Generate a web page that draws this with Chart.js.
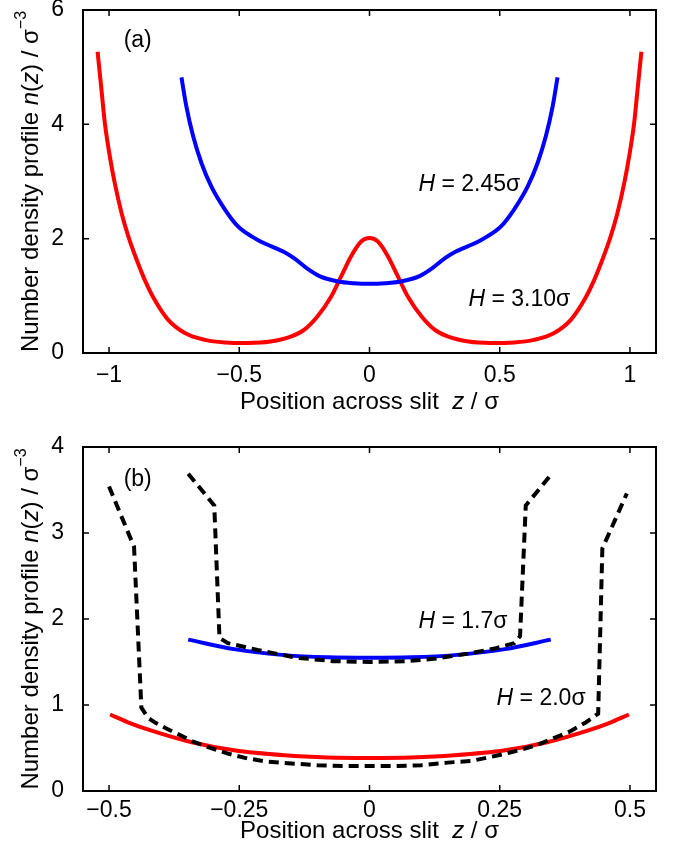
<!DOCTYPE html>
<html>
<head>
<meta charset="utf-8">
<script src="https://cdn.jsdelivr.net/npm/chart.js@4.4.1/dist/chart.umd.min.js"></script>
<style>
  html, body { margin: 0; padding: 0; background: #fff; }
  .panel { position: absolute; left: 0; width: 673px; height: 428px; }
  #wrapA { top: 0; }
  #wrapB { top: 428px; }
</style>
</head>
<body>
<div class="panel" id="wrapA"><canvas id="chartA"></canvas></div>
<div class="panel" id="wrapB"><canvas id="chartB"></canvas></div>
<script>
// ---- panel (a) data ----
const xTicksA = [-1, -0.5, 0, 0.5, 1];
const yTicksA = [0, 2, 4, 6];
// H = 3.10 sigma
const redAx = [-1.044, -1.029, -1.016, -0.997, -0.978, -0.952, -0.926, -0.894, -0.863, -0.825, -0.773, -0.709, -0.632, -0.555, -0.466, -0.38, -0.30, -0.25, -0.20, -0.147, -0.109, -0.071, -0.032, 0,
                0.032, 0.071, 0.109, 0.147, 0.20, 0.25, 0.30, 0.38, 0.466, 0.555, 0.632, 0.709, 0.773, 0.825, 0.863, 0.894, 0.926, 0.952, 0.978, 0.997, 1.016, 1.029, 1.044];
const redAy = [5.27, 4.60, 4.02, 3.44, 2.97, 2.45, 2.04, 1.63, 1.28, 0.93, 0.58, 0.35, 0.23, 0.185, 0.175, 0.20, 0.29, 0.41, 0.64, 0.99, 1.34, 1.69, 1.95, 2.01,
                1.95, 1.69, 1.34, 0.99, 0.64, 0.41, 0.29, 0.20, 0.175, 0.185, 0.23, 0.35, 0.58, 0.93, 1.28, 1.63, 2.04, 2.45, 2.97, 3.44, 4.02, 4.60, 5.27];
// H = 2.45 sigma
const blueAx = [-0.722, -0.703, -0.677, -0.645, -0.607, -0.555, -0.504, -0.453, -0.40, -0.33, -0.29, -0.24, -0.19, -0.12, -0.06, 0,
                 0.06, 0.12, 0.19, 0.24, 0.29, 0.33, 0.40, 0.453, 0.504, 0.555, 0.607, 0.645, 0.677, 0.703, 0.722];
const blueAy = [4.82, 4.31, 3.79, 3.32, 2.91, 2.51, 2.21, 2.04, 1.91, 1.77, 1.66, 1.48, 1.34, 1.25, 1.22, 1.21,
                 1.22, 1.25, 1.34, 1.48, 1.66, 1.77, 1.91, 2.04, 2.21, 2.51, 2.91, 3.32, 3.79, 4.31, 4.82];

// ---- panel (b) data ----
const xTicksB = [-0.5, -0.25, 0, 0.25, 0.5];
const yTicksB = [0, 1, 2, 3, 4];
const redBx = [-0.498, -0.46, -0.42, -0.343, -0.26, -0.163, -0.08, 0, 0.08, 0.163, 0.26, 0.343, 0.42, 0.46, 0.498];
const redBy = [0.89, 0.79, 0.705, 0.57, 0.473, 0.415, 0.39, 0.385, 0.39, 0.415, 0.473, 0.57, 0.705, 0.79, 0.89];
const blueBx = [-0.348, -0.26, -0.163, -0.08, 0, 0.08, 0.163, 0.26, 0.348];
const blueBy = [1.76, 1.65, 1.58, 1.555, 1.55, 1.555, 1.58, 1.65, 1.76];
// dashed profiles
const dash20x = [-0.50, -0.452, -0.438, -0.425, -0.41, -0.388, -0.36, -0.337, -0.30, -0.272, -0.235, -0.196, -0.15, -0.10, -0.05, 0,
                 0.05, 0.10, 0.15, 0.196, 0.243, 0.272, 0.32, 0.384, 0.416, 0.439, 0.447, 0.494];
const dash20y = [3.54, 2.84, 0.97, 0.85, 0.79, 0.72, 0.64, 0.57, 0.49, 0.435, 0.38, 0.34, 0.32, 0.30, 0.29, 0.29,
                 0.29, 0.30, 0.33, 0.35, 0.41, 0.45, 0.53, 0.69, 0.80, 0.90, 2.82, 3.46];
const dash17x = [-0.348, -0.298, -0.288, -0.272, -0.215, -0.14, -0.07, 0, 0.07, 0.128, 0.192, 0.243, 0.278, 0.289, 0.30, 0.35];
const dash17y = [3.69, 3.32, 1.78, 1.72, 1.64, 1.55, 1.51, 1.50, 1.51, 1.54, 1.60, 1.66, 1.72, 1.80, 3.32, 3.69];

const FAMILY = '"Liberation Sans", Arial, Helvetica, sans-serif';
const pts = (xs, ys) => xs.map((x, i) => ({ x: x, y: ys[i] }));
const fmt = v => (v < 0 ? '\u2212' + Math.abs(v) : String(v));

// draw a run of text pieces (italic / superscript) starting at x, or centred on x
function drawRich(ctx, segs, x, y, size, center) {
  const fonts = segs.map(s => (s.it ? 'italic ' : '') + (s.sup ? Math.round(size * 0.68) : size) + 'px ' + FAMILY);
  let total = 0;
  const widths = segs.map((s, i) => {
    ctx.font = fonts[i];
    const w = ctx.measureText(s.t).width;
    total += w;
    return w;
  });
  let cx = center ? x - total / 2 : x;
  segs.forEach((s, i) => {
    ctx.font = fonts[i];
    ctx.fillText(s.t, cx, s.sup ? y - size * 0.5 : y);
    cx += widths[i];
  });
}

const yTitle = [
  { t: 'Number density profile ' }, { t: 'n', it: true }, { t: '(' }, { t: 'z', it: true },
  { t: ') / \u03c3' }, { t: '\u22123', sup: true }
];
const xTitle = [{ t: 'Position across slit  ' }, { t: 'z', it: true }, { t: ' / \u03c3' }];

const framePlugin = {
  id: 'frame',
  afterDraw(chart) {
    const ctx = chart.ctx;
    const a = chart.chartArea;
    const sx = chart.scales.x, sy = chart.scales.y;
    const o = chart.options.plugins.frame;
    ctx.save();
    ctx.strokeStyle = '#000';
    ctx.lineWidth = 2;
    ctx.strokeRect(a.left, a.top, a.right - a.left, a.bottom - a.top);
    ctx.lineWidth = 1.5;
    ctx.beginPath();
    sx.ticks.forEach(t => {
      const px = sx.getPixelForValue(t.value);
      ctx.moveTo(px, a.bottom); ctx.lineTo(px, a.bottom - 6);
      ctx.moveTo(px, a.top); ctx.lineTo(px, a.top + 6);
    });
    sy.ticks.forEach(t => {
      const py = sy.getPixelForValue(t.value);
      ctx.moveTo(a.left, py); ctx.lineTo(a.left + 6, py);
      ctx.moveTo(a.right, py); ctx.lineTo(a.right - 6, py);
    });
    ctx.stroke();

    ctx.fillStyle = '#000';
    ctx.textAlign = 'left';
    ctx.textBaseline = 'alphabetic';
    // axis titles
    drawRich(ctx, xTitle, (a.left + a.right) / 2, a.bottom + o.xTitleGap, 24, true);
    ctx.save();
    ctx.translate(38, (a.top + a.bottom) / 2);
    ctx.rotate(-Math.PI / 2);
    drawRich(ctx, yTitle, 0, 0, 24, true);
    ctx.restore();
    // in-plot labels, anchored in data coordinates
    o.notes.forEach(n => {
      drawRich(ctx, n.segs, sx.getPixelForValue(n.x), sy.getPixelForValue(n.y), 23, false);
    });
    ctx.restore();
  }
};

function makeChart(id, cfg) {
  return new Chart(document.getElementById(id), {
    type: 'scatter',
    data: { datasets: cfg.datasets },
    options: {
      responsive: true,
      maintainAspectRatio: false,
      animation: false,
      layout: { padding: { left: 0, right: 17, top: cfg.top, bottom: 0 } },
      plugins: {
        legend: { display: false },
        tooltip: { enabled: false },
        frame: { xTitleGap: cfg.xTitleGap, notes: cfg.notes }
      },
      scales: {
        x: {
          type: 'linear',
          min: cfg.xMin, max: cfg.xMax,
          grid: { display: false },
          border: { display: false },
          afterBuildTicks: s => { s.ticks = cfg.xTicks.map(v => ({ value: v })); },
          afterFit: s => { s.height = cfg.xAxisH; s.paddingLeft = 0; s.paddingRight = 0; },
          ticks: {
            color: '#000', padding: cfg.xPad, maxRotation: 0, autoSkip: false,
            font: { family: FAMILY, size: 23 },
            callback: v => fmt(v)
          }
        },
        y: {
          type: 'linear',
          min: cfg.yMin, max: cfg.yMax,
          grid: { display: false },
          border: { display: false },
          afterBuildTicks: s => { s.ticks = cfg.yTicks.map(v => ({ value: v })); },
          afterFit: s => { s.width = 83; s.paddingTop = 0; s.paddingBottom = 0; },
          ticks: {
            color: '#000', padding: 11, autoSkip: false,
            font: { family: FAMILY, size: 23 },
            callback: v => fmt(v)
          }
        }
      }
    },
    plugins: [framePlugin]
  });
}

const solid = (data, color) => ({
  data: data, showLine: true, borderColor: color, borderWidth: 4,
  pointRadius: 0, cubicInterpolationMode: 'monotone', fill: false
});
const dashed = data => ({
  data: data, showLine: true, borderColor: '#000', borderWidth: 4,
  borderDash: [10, 6], pointRadius: 0, tension: 0, fill: false
});

makeChart('chartA', {
  datasets: [
    solid(pts(blueAx, blueAy), '#0000ff'),
    solid(pts(redAx, redAy), '#ff0000')
  ],
  xMin: -1.1, xMax: 1.1, yMin: 0, yMax: 6,
  xTicks: xTicksA, yTicks: yTicksA,
  top: 10, xAxisH: 75, xPad: 1, xTitleGap: 56,
  notes: [
    { x: -0.944, y: 5.36, segs: [{ t: '(a)' }] },
    { x: 0.188, y: 2.84, segs: [{ t: 'H', it: true }, { t: ' = 2.45\u03c3' }] },
    { x: 0.38, y: 0.83, segs: [{ t: 'H', it: true }, { t: ' = 3.10\u03c3' }] }
  ]
});

makeChart('chartB', {
  datasets: [
    dashed(pts(dash17x, dash17y)),
    dashed(pts(dash20x, dash20y)),
    solid(pts(blueBx, blueBy), '#0000ff'),
    solid(pts(redBx, redBy), '#ff0000')
  ],
  xMin: -0.55, xMax: 0.55, yMin: 0, yMax: 4,
  xTicks: xTicksB, yTicks: yTicksB,
  top: 19, xAxisH: 65, xPad: -2, xTitleGap: 47,
  notes: [
    { x: -0.472, y: 3.55, segs: [{ t: '(b)' }] },
    { x: 0.094, y: 1.89, segs: [{ t: 'H', it: true }, { t: ' = 1.7\u03c3' }] },
    { x: 0.244, y: 1.0, segs: [{ t: 'H', it: true }, { t: ' = 2.0\u03c3' }] }
  ]
});
</script>
</body>
</html>
